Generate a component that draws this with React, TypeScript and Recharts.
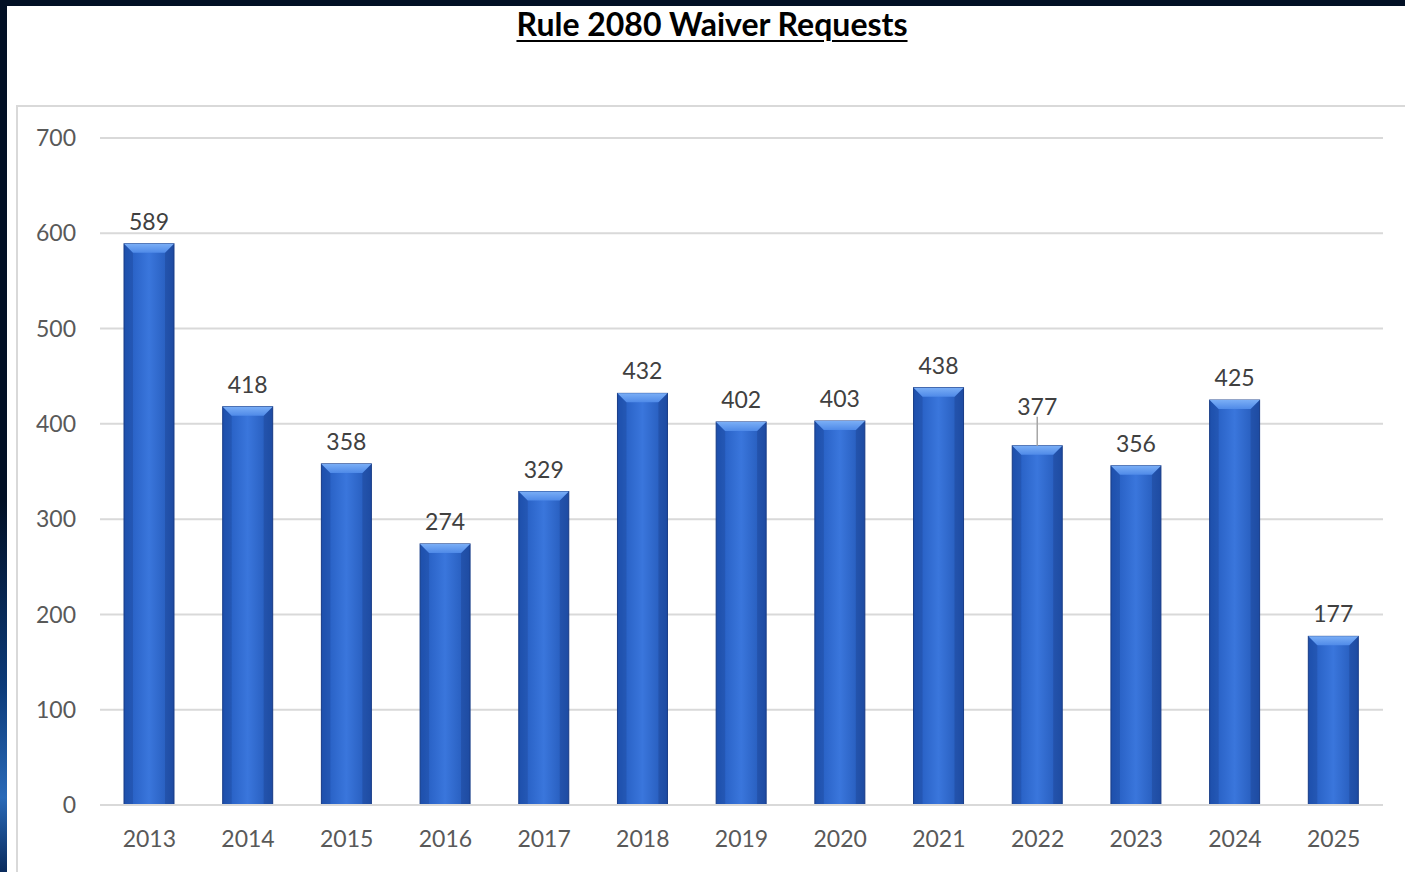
import React from 'react';
import { BarChart, Bar, XAxis, YAxis, CartesianGrid, LabelList } from 'recharts';

const years = ['2013', '2014', '2015', '2016', '2017', '2018', '2019', '2020', '2021', '2022', '2023', '2024', '2025'];
const requests = [589, 418, 358, 274, 329, 432, 402, 403, 438, 377, 356, 425, 177];
const yTicks = [0, 100, 200, 300, 400, 500, 600, 700];
// labels that Excel pushed up with a leader line
const leaderLabels = ['2022'];

const data = years.map((year, i) => ({ year, requests: requests[i] }));

const FONT = 'Lato, "Open Sans", sans-serif';

// bevelled bar like the Excel preset
const BevelBar = (props: any) => {
  const { x, y, width, height } = props;
  if (!height || height <= 0) return null;
  const b = Math.min(9, height / 2);
  return (
    <g>
      <rect x={x} y={y} width={width} height={height} fill="url(#barBody)" stroke="#1a3f8a" strokeWidth={1} />
      <polygon points={`${x},${y} ${x + b},${y + b} ${x + b},${y + height} ${x},${y + height}`} fill="rgba(20,50,120,0.22)" />
      <polygon
        points={`${x + width},${y} ${x + width - b},${y + b} ${x + width - b},${y + height} ${x + width},${y + height}`}
        fill="rgba(20,50,120,0.28)"
      />
      <polygon
        points={`${x},${y} ${x + width},${y} ${x + width - b},${y + b} ${x + b},${y + b}`}
        fill="url(#barTop)"
      />
    </g>
  );
};

const ValueLabel = (props: any) => {
  const { x, y, width, value, index } = props;
  const cx = x + width / 2;
  const lifted = leaderLabels.includes(years[index]);
  const ty = lifted ? y - 40 : y - 23;
  return (
    <g>
      {lifted && <line x1={cx} y1={ty + 11} x2={cx} y2={y} stroke="#a6a6a6" strokeWidth={1.5} />}
      <text x={cx} y={ty} textAnchor="middle" dominantBaseline="central" fill="#404040" fontSize={23} fontFamily={FONT}>
        {value}
      </text>
    </g>
  );
};

export default function App() {
  return (
    <div style={{ position: 'absolute', left: 0, top: 0, width: 1405, height: 872, background: '#021025', overflow: 'hidden' }}>
      <div
        style={{
          position: 'absolute',
          left: 0,
          top: 500,
          width: 8,
          height: 372,
          background: 'linear-gradient(180deg, #021025 0%, #0c3a78 50%, #2a6ab8 80%, #0a2b5c 100%)',
        }}
      />
      <div style={{ position: 'absolute', left: 7, top: 6, width: 1398, height: 866, background: '#ffffff' }} />
      <div
        style={{
          position: 'absolute',
          left: 16,
          top: 105,
          width: 1400,
          height: 800,
          border: '2px solid #d9d9d9',
          boxSizing: 'border-box',
        }}
      />
      <div
        style={{
          position: 'absolute',
          left: 0,
          top: 4,
          width: 1424,
          textAlign: 'center',
          fontFamily: FONT,
          fontWeight: 700,
          fontSize: 32,
          color: '#000',
          textDecoration: 'underline',
          textDecorationThickness: 2,
          textUnderlineOffset: 4,
        }}
      >
        Rule 2080 Waiver Requests
      </div>
      <div style={{ position: 'absolute', left: 0, top: 0 }}>
        <BarChart width={1405} height={872} data={data} margin={{ top: 138, right: 22, bottom: 27, left: 0 }} barSize={50}>
          <defs>
            <linearGradient id="barBody" x1="0" y1="0" x2="1" y2="0">
              <stop offset="0%" stopColor="#2158bb" />
              <stop offset="50%" stopColor="#3a76dc" />
              <stop offset="100%" stopColor="#2155b3" />
            </linearGradient>
            <linearGradient id="barTop" x1="0" y1="0" x2="0" y2="1">
              <stop offset="0%" stopColor="#7aaef6" />
              <stop offset="100%" stopColor="#4f8ae8" />
            </linearGradient>
          </defs>
          <CartesianGrid vertical={false} stroke="#d9d9d9" strokeWidth={2} />
          <XAxis
            dataKey="year"
            height={40}
            axisLine={{ stroke: '#d9d9d9', strokeWidth: 2 }}
            tickLine={false}
            tickSize={0}
            tickMargin={26}
            tick={{ fill: '#595959', fontSize: 23, fontFamily: FONT }}
          />
          <YAxis
            width={100}
            domain={[0, 700]}
            ticks={yTicks}
            axisLine={false}
            tickLine={false}
            tickSize={0}
            tickMargin={24}
            tick={{ fill: '#595959', fontSize: 23, fontFamily: FONT }}
          />
          <Bar dataKey="requests" shape={<BevelBar />} isAnimationActive={false}>
            <LabelList dataKey="requests" content={<ValueLabel />} />
          </Bar>
        </BarChart>
      </div>
    </div>
  );
}
